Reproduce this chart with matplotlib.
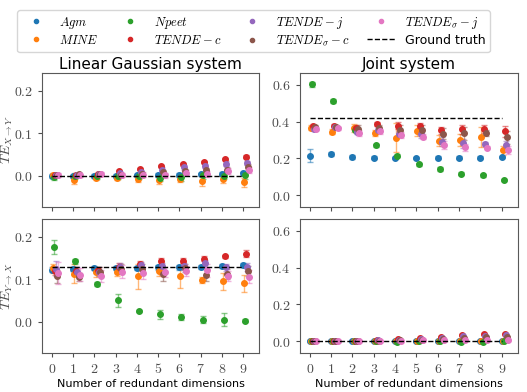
import matplotlib
matplotlib.use("Agg")
import matplotlib.pyplot as plt
from matplotlib.ticker import FuncFormatter
from matplotlib.lines import Line2D
import numpy as np

plt.rcParams['mathtext.fontset'] = 'cm'

dims = np.arange(10)
labels = [r'$Agm$', r'$MINE$', r'$Npeet$', r'$TENDE-c$', r'$TENDE-j$',
          r'$TENDE_{\sigma}-c$', r'$TENDE_{\sigma}-j$']
colors = ['C0', 'C1', 'C2', 'C3', 'C4', 'C5', 'C6']

# Linear Gaussian, TE X->Y (rows: Agm, MINE, Npeet, TENDE-c, TENDE-j, TENDEs-c, TENDEs-j)
lin_xy = [
    [0.000, -0.001, 0.000, 0.000, 0.001, 0.002, 0.002, 0.004, 0.005, 0.006],
    [0.001, -0.010, -0.004, -0.004, -0.008, -0.010, -0.007, -0.013, -0.008, -0.015],
    [-0.003, 0.000, -0.001, -0.001, 0.000, -0.004, -0.003, 0.001, 0.000, 0.001],
    [0.002, 0.003, 0.004, 0.011, 0.016, 0.023, 0.027, 0.033, 0.040, 0.045],
    [0.002, 0.003, 0.004, 0.006, 0.009, 0.015, 0.020, 0.024, 0.029, 0.031],
    [0.001, 0.004, 0.004, 0.003, 0.005, 0.009, 0.011, 0.013, 0.015, 0.020],
    [0.002, 0.001, 0.004, 0.003, 0.003, 0.001, 0.008, 0.004, 0.012, 0.014],
]
lin_xy_err = [
    [0.004] * 10,
    [0.005, 0.008, 0.006, 0.005, 0.006, 0.009, 0.008, 0.011, 0.008, 0.010],
    [0.006, 0.007, 0.007, 0.006, 0.007, 0.009, 0.009, 0.008, 0.008, 0.008],
    [0.003] * 10,
    [0.003, 0.003, 0.004, 0.004, 0.004, 0.005, 0.005, 0.005, 0.005, 0.005],
    [0.004, 0.004, 0.004, 0.005, 0.005, 0.006, 0.006, 0.006, 0.006, 0.007],
    [0.004, 0.004, 0.005, 0.005, 0.006, 0.006, 0.006, 0.007, 0.007, 0.008],
]
lin_xy_truth = 0.0

# Linear Gaussian, TE Y->X
lin_yx = [
    [0.123, 0.124, 0.126, 0.127, 0.127, 0.128, 0.128, 0.129, 0.131, 0.134],
    [0.126, 0.113, 0.118, 0.118, 0.107, 0.119, 0.107, 0.099, 0.095, 0.091],
    [0.176, 0.142, 0.089, 0.051, 0.026, 0.018, 0.011, 0.005, 0.005, 0.003],
    [0.119, 0.120, 0.122, 0.130, 0.135, 0.143, 0.144, 0.148, 0.154, 0.160],
    [0.125, 0.118, 0.118, 0.128, 0.133, 0.131, 0.131, 0.138, 0.128, 0.129],
    [0.107, 0.105, 0.118, 0.124, 0.124, 0.112, 0.127, 0.111, 0.112, 0.119],
    [0.115, 0.111, 0.108, 0.118, 0.115, 0.117, 0.119, 0.121, 0.107, 0.106],
]
lin_yx_err = [
    [0.005] * 10,
    [0.010, 0.022, 0.012, 0.010, 0.030, 0.010, 0.027, 0.007, 0.020, 0.020],
    [0.016, 0.007, 0.005, 0.015, 0.003, 0.010, 0.007, 0.008, 0.015, 0.003],
    [0.008, 0.008, 0.008, 0.008, 0.007, 0.007, 0.006, 0.006, 0.004, 0.008],
    [0.018, 0.010, 0.010, 0.010, 0.008, 0.008, 0.008, 0.008, 0.008, 0.010],
    [0.015, 0.010, 0.010, 0.012, 0.012, 0.015, 0.010, 0.015, 0.012, 0.012],
    [0.025, 0.015, 0.015, 0.015, 0.015, 0.012, 0.012, 0.015, 0.012, 0.015],
]
lin_yx_truth = 0.128

# Joint system, TE X->Y
joint_xy = [
    [0.214, 0.225, 0.207, 0.203, 0.202, 0.200, 0.204, 0.204, 0.204, 0.206],
    [0.367, 0.345, 0.365, 0.338, 0.313, 0.351, 0.296, 0.300, 0.315, 0.244],
    [0.602, 0.513, 0.356, 0.271, 0.213, 0.167, 0.142, 0.115, 0.107, 0.084],
    [0.376, 0.374, 0.367, 0.385, 0.378, 0.375, 0.353, 0.357, 0.360, 0.347],
    [0.358, 0.370, 0.345, 0.355, 0.333, 0.330, 0.290, 0.281, 0.279, 0.270],
    [0.370, 0.370, 0.360, 0.366, 0.356, 0.355, 0.335, 0.337, 0.338, 0.315],
    [0.362, 0.363, 0.338, 0.347, 0.327, 0.318, 0.273, 0.259, 0.258, 0.245],
]
joint_xy_err = [
    [0.035, 0.010, 0.012, 0.007, 0.006, 0.006, 0.007, 0.007, 0.007, 0.007],
    [0.012, 0.015, 0.022, 0.015, 0.080, 0.030, 0.030, 0.035, 0.055, 0.025],
    [0.012, 0.010, 0.010, 0.008, 0.008, 0.010, 0.010, 0.008, 0.008, 0.006],
    [0.010, 0.012, 0.012, 0.010, 0.020, 0.015, 0.020, 0.025, 0.020, 0.030],
    [0.012, 0.010, 0.015, 0.012, 0.015, 0.020, 0.025, 0.025, 0.010, 0.025],
    [0.012, 0.012, 0.020, 0.015, 0.025, 0.025, 0.030, 0.035, 0.015, 0.035],
    [0.010, 0.010, 0.015, 0.012, 0.015, 0.015, 0.020, 0.020, 0.010, 0.020],
]
joint_xy_truth = 0.42

# Joint system, TE Y->X
joint_yx = [
    [0.000, 0.002, 0.000, 0.001, 0.001, 0.001, 0.001, 0.002, 0.002, 0.003],
    [0.000, 0.001, 0.000, 0.000, 0.000, -0.001, -0.001, -0.001, -0.001, -0.001],
    [0.000, 0.003, -0.001, -0.002, -0.003, 0.002, 0.002, -0.003, -0.004, 0.001],
    [0.001, 0.002, 0.002, 0.005, 0.010, 0.015, 0.022, 0.033, 0.038, 0.040],
    [0.000, 0.001, 0.002, 0.004, 0.008, 0.011, 0.016, 0.025, 0.028, 0.032],
    [0.000, 0.001, 0.001, 0.003, 0.004, 0.007, 0.011, 0.016, 0.022, 0.024],
    [0.000, 0.000, 0.001, 0.001, 0.002, 0.004, 0.005, 0.005, 0.004, 0.007],
]
joint_yx_err = [[0.004] * 10 for _ in range(7)]
joint_yx_truth = 0.0

xtick_labels = [str(d) for d in dims]
offset_step = 0.05


def math_fmt(v, pos):
    return r'$%.1f$' % v


def draw_panel(ax, vals, errs, truth):
    for i in range(7):
        x = dims + i * offset_step
        ax.errorbar(x, vals[i], yerr=errs[i], fmt='o', color=colors[i],
                    ms=4, elinewidth=1, capsize=2.5, capthick=1,
                    ecolor=matplotlib.colors.to_rgba(colors[i], 0.55), zorder=3)
    ax.plot(dims, [truth] * len(dims), 'k--', lw=1, zorder=4)
    ax.set_xticks(dims)
    ax.yaxis.set_major_formatter(FuncFormatter(math_fmt))
    ax.tick_params(labelsize=10, colors='0.3', length=3)
    for sp in ax.spines.values():
        sp.set_edgecolor('0.35')


fig = plt.figure(figsize=(5.27, 3.92), dpi=100)
ax1 = fig.add_axes([0.080, 0.472, 0.412, 0.342])
ax2 = fig.add_axes([0.569, 0.472, 0.414, 0.342])
ax3 = fig.add_axes([0.080, 0.0995, 0.412, 0.342])
ax4 = fig.add_axes([0.569, 0.0995, 0.414, 0.342])

draw_panel(ax1, lin_xy, lin_xy_err, lin_xy_truth)
draw_panel(ax2, joint_xy, joint_xy_err, joint_xy_truth)
draw_panel(ax3, lin_yx, lin_yx_err, lin_yx_truth)
draw_panel(ax4, joint_yx, joint_yx_err, joint_yx_truth)

for ax in [ax1, ax3]:
    ax.set_ylim(-0.073, 0.242)
    ax.set_yticks([0.0, 0.1, 0.2])
for ax in [ax2, ax4]:
    ax.set_ylim(-0.065, 0.665)
    ax.set_yticks([0.0, 0.2, 0.4, 0.6])
for ax in [ax1, ax2]:
    ax.set_xticklabels([])
for ax in [ax3, ax4]:
    ax.set_xticklabels([r'$%s$' % t for t in xtick_labels])
    ax.set_xlabel('Number of redundant dimensions', fontsize=8, labelpad=2)

ax1.set_title('Linear Gaussian system', fontsize=11, pad=3)
ax2.set_title('Joint system', fontsize=11, pad=3)
ax1.set_ylabel(r'$TE_{X\rightarrow Y}$', fontsize=10, color='0.3')
ax3.set_ylabel(r'$TE_{Y\rightarrow X}$', fontsize=10, color='0.3')
for ax in [ax1, ax3]:
    ax.yaxis.set_label_coords(-0.125, 0.5)

handles = [Line2D([], [], marker='o', ls='none', color=c, ms=3) for c in colors]
handles.append(Line2D([], [], color='k', ls='--', lw=1))
fig.legend(handles, labels + ['Ground truth'], loc='upper center',
           bbox_to_anchor=(0.481, 0.99), ncol=4, fontsize=9, handlelength=2.2,
           columnspacing=1.4, labelspacing=0.25, borderpad=0.35)

fig.savefig('out.png', dpi=100)
